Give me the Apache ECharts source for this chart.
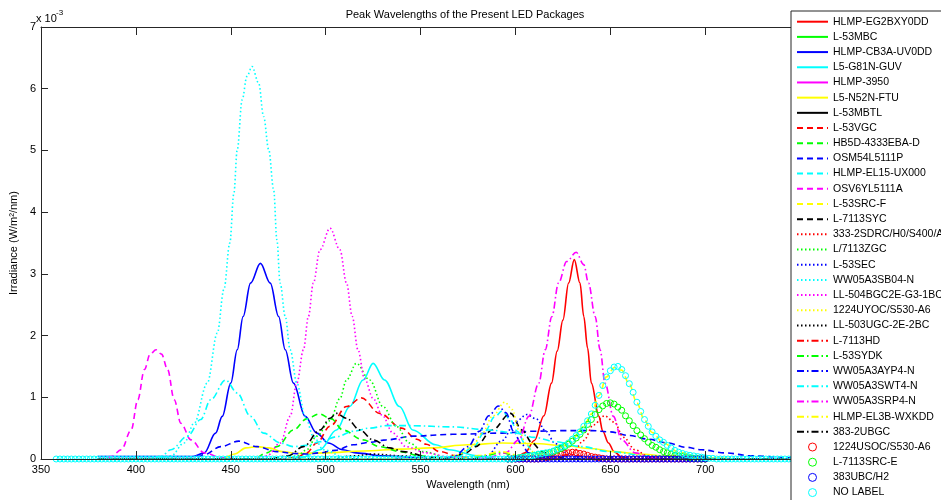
<!DOCTYPE html>
<html>
<head>
<meta charset="utf-8">
<script src="https://cdn.jsdelivr.net/npm/echarts@6/dist/echarts.min.js"></script>
<style>html,body{margin:0;padding:0;background:#fff;}#c{width:941px;height:500px;}</style>
</head>
<body>
<div id="c"></div>
<script>
// ---------- DATA ----------
const seriesNames = [
  'HLMP-EG2BXY0DD','L-53MBC','HLMP-CB3A-UV0DD','L5-G81N-GUV','HLMP-3950','L5-N52N-FTU','L-53MBTL',
  'L-53VGC','HB5D-4333EBA-D','OSM54L5111P','HLMP-EL15-UX000','OSV6YL5111A','L-53SRC-F','L-7113SYC',
  '333-2SDRC/H0/S400/A','L/7113ZGC','L-53SEC','WW05A3SB04-N','LL-504BGC2E-G3-1BC','1224UYOC/S530-A6','LL-503UGC-2E-2BC',
  'L-7113HD','L-53SYDK','WW05A3AYP4-N','WW05A3SWT4-N','WW05A3SRP4-N','HLMP-EL3B-WXKDD','383-2UBGC',
  '1224USOC/S530-A6','L-7113SRC-E','383UBC/H2','NO LABEL'
];
const xTicks = [350,400,450,500,550,600,650,700,750,800];
const yTicks = [0,1,2,3,4,5,6,7];

// irradiance in units of 1e-3 W/m2/nm, [wavelength nm, value]
const hlmpEg2bxy0dd = [[380,0],[595,0],[600,0.02],[605,0.1],[610,0.3],[615,0.7],[619,1.23],[622,1.75],[625,2.25],[628,2.85],[631,3.23],[634,2.85],[636,2.31],[638,1.8],[640,1.23],[644,0.69],[646,0.45],[649,0.26],[652,0.12],[656,0.03],[662,0],[800,0]];
const l53mbc = [[380,0],[800,0]];
const hlmpCb3aUv0dd = [[380,0.04],[430,0.04],[436,0.1],[442,0.42],[445.5,0.69],[450,1.23],[453.4,1.77],[456.5,2.31],[460.4,2.85],[465.6,3.17],[470.8,2.85],[475.2,2.31],[478.7,1.77],[483,1.23],[489.2,0.69],[495.3,0.42],[501.4,0.26],[509,0.15],[516,0.1],[530,0.05],[560,0],[800,0]];
const l5G81nGuv = [[380,0],[480,0],[488,0.03],[497,0.15],[505.7,0.47],[512.7,0.85],[519.7,1.28],[525,1.55],[531,1.28],[538.9,0.85],[545.9,0.47],[558,0.23],[565,0.15],[580,0.05],[592,0],[800,0]];
const hlmp3950 = [[380,0],[800,0]];
const l5N52nFtu = [[380,0],[445,0],[452,0.08],[458,0.18],[464,0.2],[470,0.18],[477,0.12],[485,0.09],[500,0.1],[520,0.13],[540,0.16],[555,0.18],[575,0.23],[593,0.26],[610,0.25],[625,0.22],[640,0.17],[652,0.12],[665,0.08],[680,0.05],[700,0.02],[720,0],[800,0]];
const l53mbtl = [[380,0],[800,0]];
const l53vgc = [[380,0],[478,0],[485,0.03],[490,0.1],[495.3,0.26],[502.3,0.53],[511,0.85],[518.8,0.99],[528.5,0.74],[540,0.5],[548,0.32],[553,0.24],[560,0.12],[570,0.04],[580,0],[800,0]];
const hb5d4333ebaD = [[380,0],[462,0],[469,0.1],[474.3,0.2],[483,0.47],[490,0.65],[496.5,0.73],[503,0.65],[509,0.47],[519.7,0.31],[528.5,0.2],[539,0.12],[550,0.05],[565,0],[800,0]];
const osm54l5111p = [[380,0],[430,0],[436,0.07],[444.7,0.2],[454.2,0.29],[463.8,0.2],[474.3,0.12],[483,0.09],[490,0.08],[497,0.1],[505,0.14],[514.5,0.23],[523,0.27],[531.9,0.31],[545.9,0.37],[566.9,0.4],[593,0.42],[610,0.45],[625,0.46],[640,0.46],[650,0.44],[660,0.38],[670,0.32],[680,0.26],[690,0.19],[698,0.15],[710,0.1],[725,0.05],[745,0.02],[770,0],[800,0]];
const hlmpEl15Ux000 = [[380,0],[565,0],[570,0.05],[578,0.2],[584,0.45],[589,0.68],[593,0.78],[597,0.65],[601,0.45],[605,0.25],[610,0.1],[616,0.02],[625,0],[800,0]];
const osv6yl5111a = [[380,0],[382,0],[387,0.04],[392.3,0.15],[397.5,0.47],[401,0.96],[404.5,1.45],[407.5,1.7],[410.6,1.77],[413.5,1.7],[416.7,1.45],[420.2,0.96],[423.7,0.58],[429,0.31],[436,0.1],[445,0.02],[455,0],[800,0]];
const l53srcF = [[380,0],[600,0],[610,0.06],[620,0.13],[630,0.32],[636,0.53],[640,0.73],[644,1.03],[648,1.33],[652,1.48],[656,1.44],[660,1.21],[664,0.91],[668,0.63],[672,0.43],[678,0.26],[686,0.11],[696,0.03],[710,0],[800,0]];
const l7113syc = [[380,0],[565,0],[573.8,0.1],[579,0.2],[587.8,0.47],[597.4,0.74],[603.5,0.47],[608.8,0.26],[614,0.12],[620,0.04],[628,0],[800,0]];
const s3332sdrc = [[380,0],[620,0],[630,0.1],[636,0.3],[641,0.55],[647,0.7],[652,0.6],[657,0.35],[663,0.15],[670,0.04],[680,0],[800,0]];
const l7113zgc = [[380,0],[478,0],[485,0.05],[490,0.15],[495.3,0.37],[502.3,0.62],[507.5,0.98],[511,1.28],[516.2,1.55],[523.2,1.28],[530.2,0.85],[537.2,0.53],[544.2,0.26],[551.2,0.12],[565,0.02],[575,0],[800,0]];
const l53sec = [[380,0],[578,0],[585,0.05],[593,0.3],[600,0.6],[606,0.72],[611,0.65],[616,0.45],[621,0.25],[628,0.08],[635,0],[800,0]];
const ww05a3sb04N = [[380,0],[410,0],[418.5,0.05],[425.4,0.26],[430.7,0.58],[437.6,1.23],[442.9,2.04],[446.4,2.75],[449.5,3.5],[451.6,4.3],[453.4,5.01],[456,5.82],[458.5,6.2],[461.2,6.36],[464.7,6.09],[467.3,5.55],[470,5.01],[472.6,4.36],[474.3,3.55],[476,2.85],[478.7,2.31],[481.3,1.77],[484.8,1.23],[489.2,0.69],[493.5,0.37],[498.8,0.15],[510,0.03],[520,0],[800,0]];
const ll504bgc = [[380,0],[462,0],[469,0.05],[476.1,0.26],[481.3,0.69],[484.8,1.23],[488.3,1.77],[490.9,2.31],[493.5,2.85],[497,3.39],[502.3,3.74],[507.5,3.39],[511,2.85],[514,2.31],[517,1.77],[520.5,1.3],[525,0.98],[530,0.7],[535.4,0.42],[542.4,0.2],[552.9,0.1],[565,0.03],[575,0],[800,0]];
const u1224uyoc = [[380,0],[560,0],[570,0.07],[577,0.2],[582.6,0.42],[587.8,0.69],[594.4,0.92],[598.3,0.8],[601.8,0.47],[605.3,0.26],[608.8,0.12],[615,0.03],[625,0],[800,0]];
const ll503ugc = [[380,0],[500,0],[515,0.05],[525,0.08],[540,0.05],[560,0],[800,0]];
const l7113hd = [[380,0],[610,0],[620,0.04],[628,0.07],[636,0.04],[645,0],[800,0]];
const l53sydk = [[380,0],[575,0],[585,0.06],[592,0.1],[600,0.06],[610,0],[800,0]];
const ww05a3ayp4N = [[380,0],[562,0],[568,0.05],[575,0.2],[581,0.45],[586,0.7],[591,0.86],[595,0.75],[599,0.45],[603,0.25],[607,0.1],[612,0.02],[620,0],[800,0]];
const ww05a3swt4N = [[380,0],[405,0],[413.2,0.04],[418.5,0.15],[427.2,0.37],[434.2,0.64],[439.4,0.96],[447.3,1.28],[453.4,1.07],[460.4,0.69],[467.3,0.42],[476.1,0.26],[483,0.2],[490,0.22],[497,0.28],[505.7,0.36],[514.5,0.45],[523.2,0.5],[532,0.54],[545,0.54],[566.9,0.52],[586,0.47],[600,0.42],[610,0.35],[621,0.28],[635,0.2],[649,0.12],[670,0.05],[700,0.01],[720,0],[800,0]];
const ww05a3srp4N = [[380,0],[578,0],[585,0.02],[594.8,0.1],[601.8,0.31],[607,0.69],[612.3,1.23],[615.7,1.77],[619.2,2.31],[622.7,2.85],[627,3.2],[632,3.35],[636,3.15],[638.5,2.85],[642,2.31],[644.6,1.77],[647.2,1.23],[651.6,0.69],[656,0.31],[663,0.1],[672,0.02],[680,0],[800,0]];
const hlmpEl3bWxkdd = [[380,0],[570,0],[582,0.06],[592,0.12],[602,0.06],[612,0],[800,0]];
const s3832ubgc = [[380,0],[470,0],[480,0.05],[488.3,0.2],[497,0.47],[502.3,0.66],[505.7,0.74],[511,0.66],[518,0.47],[525,0.31],[533.7,0.18],[540.7,0.12],[555,0.03],[565,0],[800,0]];

// marker series (sampled every 2 nm)
const cyanWl = [
  358,360,362,364,366,368,370,372,374,376,378,380,382,384,386,388,390,392,394,396,
  398,400,402,404,406,408,410,412,414,416,418,420,422,424,426,428,430,432,434,436,
  438,440,442,444,446,448,450,452,454,456,458,460,462,464,466,468,470,472,474,476,
  478,480,482,484,486,488,490,492,494,496,498,500,502,504,506,508,510,512,514,516,
  518,520,522,524,526,528,530,532,534,536,538,540,542,544,546,548,550,552,554,556,
  558,560,562,564,566,568,570,572,574,576,578,580,582,584,586,588,590,592,594,596,
  598,600,602,604,606,608,610,612,614,616,618,620,622,624,626,628,630,632,634,636,
  638,640,642,644,646,648,650,652,654,656,658,660,662,664,666,668,670,672,674,676,
  678,680,682,684,686,688,690,692,694,696,698,700,702,704,706,708,710,712,714,716,
  718,720,722,724,726,728,730,732,734,736,738,740,742,744,746,748,750,752,754,756,
  758,760,762,764,766,768,770,772,774,776,778,780,782,784,786,788,790,792,794,796,
  798,800
];
const noLabel = [
  0,0,0,0,0,0,0,0,0,0,0,0,0,0,0,0,0,0,0,0,
  0,0,0,0,0,0,0,0,0,0,0,0,0,0,0,0,0,0,0,0,
  0,0,0,0,0,0,0,0,0,0,0,0,0,0,0,0,0,0,0,0,
  0,0,0,0,0,0,0,0,0,0,0,0,0,0,0,0,0,0,0,0,
  0,0,0,0,0,0,0,0,0,0,0,0,0,0,0,0,0,0,0,0,
  0,0,0,0,0,0,0,0,0,0,0,0,0,0,0,0,0,0,0,0,
  0,0.01,0.02,0.03,0.04,0.05,0.06,0.08,0.09,0.1,0.11,0.13,0.16,0.19,0.22,0.26,0.32,0.38,0.44,0.53,
  0.62,0.73,0.87,1.03,1.19,1.33,1.43,1.49,1.5,1.45,1.35,1.22,1.08,0.92,0.77,0.64,0.53,0.44,0.37,0.31,
  0.27,0.22,0.18,0.14,0.11,0.09,0.07,0.06,0.05,0.04,0.03,0.02,0.01,0.01,0,0,0,0,0,0,
  0,0,0,0,0,0,0,0,0,0,0,0,0,0,0,0,0,0,0,0,
  0,0,0,0,0,0,0,0,0,0,0,0,0,0,0,0,0,0,0,0,
  0,0
];
const humpWl = [
  596,598,600,602,604,606,608,610,612,614,616,618,620,622,624,626,628,630,632,634,
  636,638,640,642,644,646,648,650,652,654,656,658,660,662,664,666,668,670,672,674,
  676,678,680,682,684,686,688,690,692,694,696,698,700
];
const u1224usoc = [
  0,0,0,0,0,0,0,0,0,0.01,0.02,0.03,0.04,0.06,0.08,0.09,0.1,0.11,0.1,0.09,
  0.08,0.06,0.04,0.03,0.02,0.01,0,0,0,0,0,0,0,0,0,0,0,0,0,0,
  0,0,0,0,0,0,0,0,0,0,0,0,0
];
const l7113srcE = [
  0,0,0.01,0.02,0.03,0.04,0.05,0.06,0.07,0.08,0.09,0.1,0.12,0.14,0.17,0.2,0.24,0.29,0.34,0.4,
  0.47,0.56,0.64,0.72,0.8,0.86,0.9,0.91,0.89,0.84,0.79,0.7,0.62,0.54,0.46,0.39,0.33,0.27,0.22,0.19,
  0.15,0.12,0.1,0.08,0.06,0.05,0.04,0.03,0.02,0.01,0.01,0,0
];
const ubc383h2 = [
  0,0,0,0,0,0,0,0,0,0,0,0,0,0,0,0,0,0,0,0,
  0,0,0,0,0,0,0,0,0,0,0,0,0,0,0,0,0,0,0,0,
  0,0,0,0,0,0,0,0,0,0,0,0,0
];

const lineData = [
  hlmpEg2bxy0dd,l53mbc,hlmpCb3aUv0dd,l5G81nGuv,hlmp3950,l5N52nFtu,l53mbtl,
  l53vgc,hb5d4333ebaD,osm54l5111p,hlmpEl15Ux000,osv6yl5111a,l53srcF,l7113syc,
  s3332sdrc,l7113zgc,l53sec,ww05a3sb04N,ll504bgc,u1224uyoc,ll503ugc,
  l7113hd,l53sydk,ww05a3ayp4N,ww05a3swt4N,ww05a3srp4N,hlmpEl3bWxkdd,s3832ubgc
];
const markerData = [[humpWl,u1224usoc],[humpWl,l7113srcE],[humpWl,ubc383h2],[cyanWl,noLabel]];

// ---------- STYLE ----------
const palette = ['#FF0000','#00FF00','#0000FF','#00FFFF','#FF00FF','#FFFF00','#000000'];
const dashes = ['solid',[6,4],[1.5,2.5],[7,3,1.5,3]];
const FONT = "'Liberation Sans', Arial, Helvetica, sans-serif";
const AX = '#262626';

const series = [];
const legendData = [];
lineData.forEach((d, i) => {
  series.push({
    type: 'line', name: seriesNames[i], data: d,
    smooth: 0.35, smoothMonotone: 'x', showSymbol: false, symbol: 'none',
    lineStyle: { color: palette[i % 7], width: 1.6, type: dashes[Math.floor(i / 7)] },
    itemStyle: { color: palette[i % 7] },
    emphasis: { disabled: true }, silent: true
  });
  legendData.push({ name: seriesNames[i], itemStyle: { opacity: 0 } });
});
markerData.forEach((m, j) => {
  const c = palette[j];
  series.push({
    type: 'line', name: seriesNames[28 + j],
    data: m[0].map((w, k) => [w, m[1][k]]),
    symbol: 'circle', symbolSize: 6, showSymbol: true,
    lineStyle: { width: 0, opacity: 0 },
    itemStyle: { color: 'rgba(255,255,255,0)', borderColor: c, borderWidth: 1 },
    emphasis: { disabled: true }, silent: true
  });
  legendData.push({ name: seriesNames[28 + j], itemStyle: { opacity: 1, color: 'rgba(255,255,255,0)', borderColor: c, borderWidth: 1 } });
});

const chart = echarts.init(document.getElementById('c'), null, { renderer: 'canvas' });
chart.setOption({
  animation: false,
  backgroundColor: '#fff',
  textStyle: { fontFamily: FONT },
  grid: { left: 36, right: 46, top: 27, bottom: 41, containLabel: false },
  graphic: [
    { type: 'text', x: 465, y: 15, style: { text: 'Peak Wavelengths of the Present LED Packages', font: '11px ' + FONT, fill: '#000', textAlign: 'center', textVerticalAlign: 'middle' } },
    { type: 'text', x: 36, y: 18.5, style: { text: 'x 10', font: '11px ' + FONT, fill: '#000', textAlign: 'left', textVerticalAlign: 'middle' } },
    { type: 'text', x: 56, y: 13, style: { text: '-3', font: '8px ' + FONT, fill: '#000', textAlign: 'left', textVerticalAlign: 'middle' } }
  ],
  xAxis: [
    {
      type: 'value', position: 'bottom', min: xTicks[0], max: xTicks[xTicks.length - 1], interval: 50, z: 10,
      name: 'Wavelength (nm)', nameLocation: 'middle', nameGap: 14,
      nameTextStyle: { fontSize: 11, color: '#000', fontFamily: FONT },
      axisLine: { onZero: false, lineStyle: { color: AX, width: 1 } },
      axisTick: { inside: true, length: 8, lineStyle: { color: AX } },
      axisLabel: { fontSize: 11, color: '#000', margin: 5, fontFamily: FONT },
      splitLine: { show: false }
    },
    {
      type: 'value', position: 'top', min: xTicks[0], max: xTicks[xTicks.length - 1], interval: 50, z: 10,
      axisLine: { onZero: false, lineStyle: { color: AX, width: 1 } },
      axisTick: { inside: true, length: 8, lineStyle: { color: AX } },
      axisLabel: { show: false }, splitLine: { show: false }
    }
  ],
  yAxis: [
    {
      type: 'value', min: yTicks[0], max: yTicks[yTicks.length - 1], interval: 1, z: 10,
      name: 'Irradiance (W/m²/nm)', nameLocation: 'middle', nameGap: 17, nameRotate: 90,
      nameTextStyle: { fontSize: 11, color: '#000', fontFamily: FONT },
      axisLine: { show: true, onZero: false, lineStyle: { color: AX, width: 1 } },
      axisTick: { show: true, inside: true, length: 7, lineStyle: { color: AX } },
      axisLabel: { fontSize: 11, color: '#000', margin: 5, fontFamily: FONT },
      splitLine: { show: false }
    }
  ],
  legend: {
    orient: 'vertical', left: 791, top: 11, z: 20, height: 560,
    padding: [5.2, 5, 5, 5],
    itemWidth: 31, itemHeight: 10, itemGap: 4.19,
    backgroundColor: '#fff', borderColor: AX, borderWidth: 1, borderRadius: 0,
    selectedMode: false,
    textStyle: { fontSize: 10.5, color: '#000', fontFamily: FONT, lineHeight: 10 },
    data: legendData
  },
  series: series
});
</script>
</body>
</html>
